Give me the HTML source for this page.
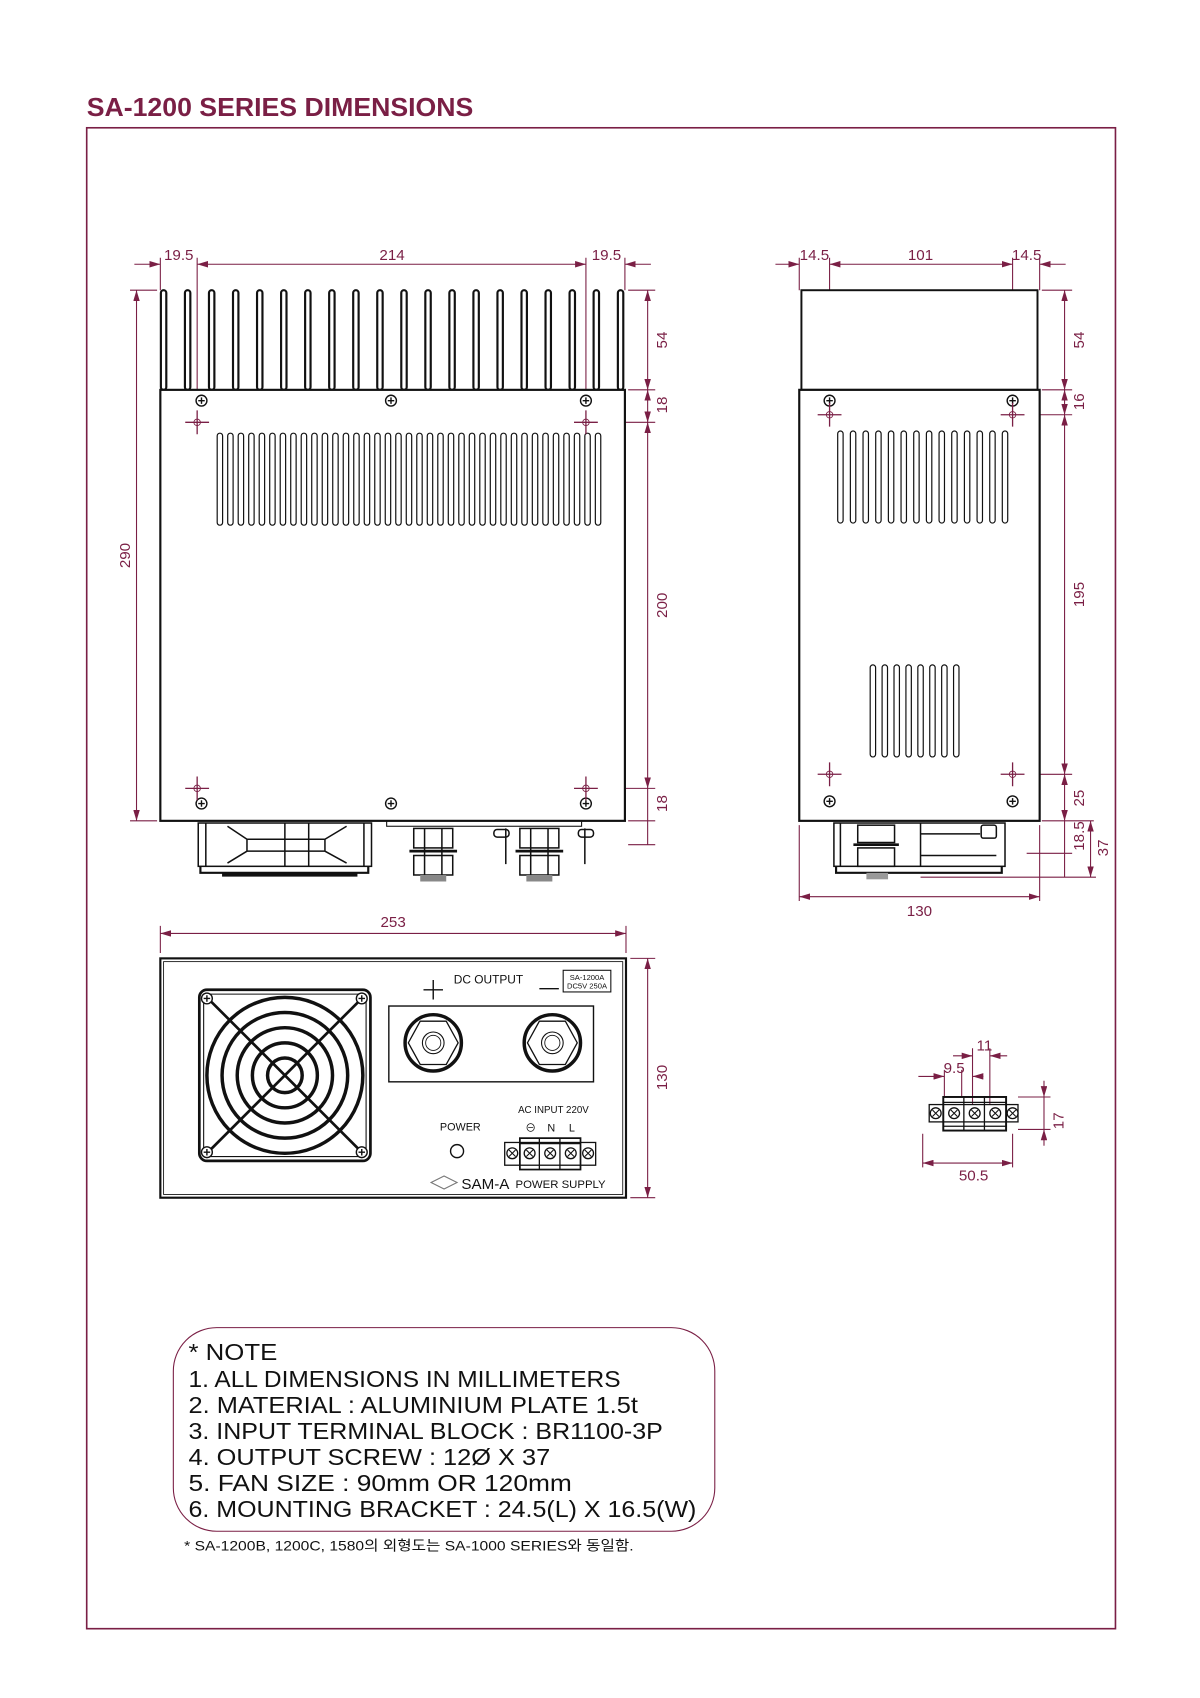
<!DOCTYPE html>
<html><head><meta charset="utf-8"><style>
html,body{margin:0;padding:0;background:#fff}
svg{display:block}
text{font-family:"Liberation Sans","Noto Sans CJK KR",sans-serif}
</style></head><body>
<svg width="1200" height="1698" viewBox="0 0 1108 1568" xmlns="http://www.w3.org/2000/svg">
<defs>
<marker id="a" viewBox="0 0 10 6" refX="10" refY="3" markerWidth="10" markerHeight="6" orient="auto-start-reverse" markerUnits="userSpaceOnUse"><path d="M0,0L10,3L0,6z" fill="#7a1f45"/></marker>
<rect id="fin" x="-2.5" y="0" width="5" height="92" rx="2.5" fill="#fff" stroke="#111" stroke-width="2"/>
<rect id="sl" x="-2.5" y="0" width="5" height="85" rx="2.5" fill="#fff" stroke="#111" stroke-width="1.1"/>
<g id="scr"><circle r="5" fill="#fff" stroke="#111" stroke-width="1.3"/><path d="M-3,0H3M0,-3V3" stroke="#111" stroke-width="1.3"/></g>
<g id="crs"><path d="M-11,0H11M0,-11V11" stroke="#7a1f45" stroke-width="1.2"/><circle r="3" fill="none" stroke="#7a1f45" stroke-width="0.8"/></g>
<g id="tsc"><circle r="5" fill="#fff" stroke="#111" stroke-width="1.2"/><path d="M-3,-3L3,3M3,-3L-3,3" stroke="#111" stroke-width="1"/></g>
</defs>

<text x="80" y="107" font-size="24" fill="#7a1f45" font-weight="bold" textLength="357" lengthAdjust="spacingAndGlyphs">SA-1200  SERIES  DIMENSIONS</text>
<rect x="80" y="118" width="950" height="1386" fill="none" stroke="#7a1f45" stroke-width="1.5"/>

<g stroke="#7a1f45" stroke-width="1" fill="none">
<path d="M124,244H148" marker-end="url(#a)"/>
<path d="M182,244H541" marker-start="url(#a)" marker-end="url(#a)"/>
<path d="M601,244H577" marker-end="url(#a)"/>
<path d="M148,238V268M182,238V380M541,238V380M577,238V268"/>
<path d="M120,268H145M120,758H145"/>
<path d="M126,268V758" marker-start="url(#a)" marker-end="url(#a)"/>
<path d="M580,268H605M580,360H605M552,390H605M552,728H605M580,758H605M580,780H605"/>
<path d="M598,268V360" marker-start="url(#a)" marker-end="url(#a)"/>
<path d="M598,360V390" marker-start="url(#a)" marker-end="url(#a)"/>
<path d="M598,390V728" marker-start="url(#a)" marker-end="url(#a)"/>
<path d="M598,728V780"/>
<path d="M402,665H492L540,724"/>
<path d="M716,244H738" marker-end="url(#a)"/>
<path d="M766,244H935" marker-start="url(#a)" marker-end="url(#a)"/>
<path d="M984,244H960" marker-end="url(#a)"/>
<path d="M738,238V268M766,238V375M935,238V375M960,238V268"/>
<path d="M962,268H990M962,360H990M946,383H990M946,715H990M962,758H1010M948,788H990M850,810H1012"/>
<path d="M983,268V360" marker-start="url(#a)" marker-end="url(#a)"/>
<path d="M983,360V383" marker-start="url(#a)" marker-end="url(#a)"/>
<path d="M983,383V715" marker-start="url(#a)" marker-end="url(#a)"/>
<path d="M983,715V758" marker-start="url(#a)" marker-end="url(#a)"/>
<path d="M983,758V810"/>
<path d="M1007,758V810" marker-start="url(#a)" marker-end="url(#a)"/>
<path d="M738,762V832M960,762V832"/>
<path d="M738,828H960" marker-start="url(#a)" marker-end="url(#a)"/>
<path d="M148,855V880M578,855V880"/>
<path d="M148,862H578" marker-start="url(#a)" marker-end="url(#a)"/>
<path d="M582,885H605M582,1106H605"/>
<path d="M598,885V1106" marker-start="url(#a)" marker-end="url(#a)"/>
<path d="M852,1047V1078M935,1047V1078"/>
<path d="M852,1074H935" marker-start="url(#a)" marker-end="url(#a)"/>
<path d="M872,988V1013M888,988V1013M898,968V1020M914,968V1020"/>
<path d="M848,994H872" marker-end="url(#a)"/>
<path d="M908,994H898" marker-end="url(#a)"/>
<path d="M880,975H898" marker-end="url(#a)"/>
<path d="M930,975H914" marker-end="url(#a)"/>
<path d="M940,1013H970M940,1043H970"/>
<path d="M964,998V1013" marker-end="url(#a)"/>
<path d="M964,1058V1043" marker-end="url(#a)"/>
<path d="M964,1013V1043"/>
</g>

<g fill="#7a1f45" font-size="14">
<text x="165" y="240" text-anchor="middle">19.5</text>
<text x="362" y="240" text-anchor="middle">214</text>
<text x="560" y="240" text-anchor="middle">19.5</text>
<text transform="translate(120,513) rotate(-90)" text-anchor="middle">290</text>
<text transform="translate(616,314) rotate(-90)" text-anchor="middle">54</text>
<text transform="translate(616,374) rotate(-90)" text-anchor="middle">18</text>
<text transform="translate(616,559) rotate(-90)" text-anchor="middle">200</text>
<text transform="translate(616,742) rotate(-90)" text-anchor="middle">18</text>
<text x="446" y="643" text-anchor="middle">Mounting Hole</text>
<text x="450" y="664" text-anchor="middle">(16-M4 Taps)</text>
<text x="752" y="240" text-anchor="middle">14.5</text>
<text x="850" y="240" text-anchor="middle">101</text>
<text x="948" y="240" text-anchor="middle">14.5</text>
<text transform="translate(1001,314) rotate(-90)" text-anchor="middle">54</text>
<text transform="translate(1001,371) rotate(-90)" text-anchor="middle">16</text>
<text transform="translate(1001,549) rotate(-90)" text-anchor="middle">195</text>
<text transform="translate(1001,737) rotate(-90)" text-anchor="middle">25</text>
<text transform="translate(1001,772) rotate(-90)" text-anchor="middle">18.5</text>
<text transform="translate(1023,783) rotate(-90)" text-anchor="middle">37</text>
<text x="849" y="846" text-anchor="middle">130</text>
<text x="363" y="856" text-anchor="middle">253</text>
<text transform="translate(616,995) rotate(-90)" text-anchor="middle">130</text>
<text x="909" y="970" text-anchor="middle">11</text>
<text x="881" y="991" text-anchor="middle">9.5</text>
<text x="899" y="1090" text-anchor="middle">50.5</text>
<text transform="translate(982,1035) rotate(-90)" text-anchor="middle">17</text>
</g>

<g>
<use href="#fin" x="151" y="268"/><use href="#fin" x="173.2" y="268"/><use href="#fin" x="195.4" y="268"/><use href="#fin" x="217.6" y="268"/><use href="#fin" x="239.8" y="268"/><use href="#fin" x="262" y="268"/><use href="#fin" x="284.2" y="268"/><use href="#fin" x="306.4" y="268"/><use href="#fin" x="328.6" y="268"/><use href="#fin" x="350.8" y="268"/><use href="#fin" x="373" y="268"/><use href="#fin" x="395.2" y="268"/><use href="#fin" x="417.4" y="268"/><use href="#fin" x="439.6" y="268"/><use href="#fin" x="461.8" y="268"/><use href="#fin" x="484" y="268"/><use href="#fin" x="506.2" y="268"/><use href="#fin" x="528.4" y="268"/><use href="#fin" x="550.6" y="268"/><use href="#fin" x="573" y="268"/>
<rect x="148" y="360" width="429" height="398" fill="#fff" stroke="#111" stroke-width="2"/>
<g>
<use href="#sl" x="203" y="400"/><use href="#sl" x="212.7" y="400"/><use href="#sl" x="222.4" y="400"/><use href="#sl" x="232.1" y="400"/><use href="#sl" x="241.8" y="400"/><use href="#sl" x="251.5" y="400"/><use href="#sl" x="261.2" y="400"/><use href="#sl" x="270.9" y="400"/><use href="#sl" x="280.6" y="400"/><use href="#sl" x="290.3" y="400"/><use href="#sl" x="300" y="400"/><use href="#sl" x="309.7" y="400"/><use href="#sl" x="319.4" y="400"/><use href="#sl" x="329.1" y="400"/><use href="#sl" x="338.8" y="400"/><use href="#sl" x="348.5" y="400"/><use href="#sl" x="358.2" y="400"/><use href="#sl" x="367.9" y="400"/><use href="#sl" x="377.6" y="400"/><use href="#sl" x="387.3" y="400"/><use href="#sl" x="397" y="400"/><use href="#sl" x="406.7" y="400"/><use href="#sl" x="416.4" y="400"/><use href="#sl" x="426.1" y="400"/><use href="#sl" x="435.8" y="400"/><use href="#sl" x="445.5" y="400"/><use href="#sl" x="455.2" y="400"/><use href="#sl" x="464.9" y="400"/><use href="#sl" x="474.6" y="400"/><use href="#sl" x="484.3" y="400"/><use href="#sl" x="494" y="400"/><use href="#sl" x="503.7" y="400"/><use href="#sl" x="513.4" y="400"/><use href="#sl" x="523.1" y="400"/><use href="#sl" x="532.8" y="400"/><use href="#sl" x="542.5" y="400"/><use href="#sl" x="552.2" y="400"/>
</g>
<use href="#scr" x="186" y="370"/><use href="#scr" x="361" y="370"/><use href="#scr" x="541" y="370"/>
<use href="#scr" x="186" y="742"/><use href="#scr" x="361" y="742"/><use href="#scr" x="541" y="742"/>
<use href="#crs" x="182" y="390"/><use href="#crs" x="541" y="390"/><use href="#crs" x="182" y="728"/><use href="#crs" x="541" y="728"/>
<g fill="none" stroke="#111" stroke-width="1.4">
<rect x="183" y="760" width="160" height="40"/>
<path d="M190,760V800M336,760V800M210,763L228,775H300L320,763M210,797L228,786H300L320,797M228,775V786M300,775V786M263,760V800M285,760V800"/>
<path d="M185,800V806H340V800" stroke-width="2"/>
<path d="M205,808H330" stroke-width="3"/>
<rect x="357" y="758" width="180" height="5" stroke-width="1"/>
<rect x="382" y="765" width="36" height="18"/><rect x="382" y="790" width="36" height="18"/>
<path d="M378,786H422" stroke-width="2.5"/>
<path d="M392,765V808M408,765V808"/>
<rect x="388" y="808" width="24" height="6" fill="#888" stroke="none"/>
<rect x="480" y="765" width="36" height="18"/><rect x="480" y="790" width="36" height="18"/>
<path d="M476,786H520" stroke-width="2.5"/>
<path d="M490,765V808M506,765V808"/>
<rect x="486" y="808" width="24" height="6" fill="#888" stroke="none"/>
<path d="M467,765V798M540,765V798"/>
<rect x="456" y="766" width="14" height="7" rx="3"/><rect x="534" y="766" width="14" height="7" rx="3"/>
</g>
</g>

<g>
<rect x="740" y="268" width="218" height="92" fill="#fff" stroke="#111" stroke-width="1.8"/>
<rect x="738" y="360" width="222" height="398" fill="#fff" stroke="#111" stroke-width="2"/>
<use href="#sl" x="776" y="398"/><use href="#sl" x="787.7" y="398"/><use href="#sl" x="799.4" y="398"/><use href="#sl" x="811.1" y="398"/><use href="#sl" x="822.8" y="398"/><use href="#sl" x="834.5" y="398"/><use href="#sl" x="846.2" y="398"/><use href="#sl" x="857.9" y="398"/><use href="#sl" x="869.6" y="398"/><use href="#sl" x="881.3" y="398"/><use href="#sl" x="893" y="398"/><use href="#sl" x="904.7" y="398"/><use href="#sl" x="916.4" y="398"/><use href="#sl" x="928" y="398"/>
<use href="#sl" x="806" y="614"/><use href="#sl" x="817" y="614"/><use href="#sl" x="828" y="614"/><use href="#sl" x="839" y="614"/><use href="#sl" x="850" y="614"/><use href="#sl" x="861" y="614"/><use href="#sl" x="872" y="614"/><use href="#sl" x="883" y="614"/>
<use href="#scr" x="766" y="370"/><use href="#scr" x="935" y="370"/><use href="#scr" x="766" y="740"/><use href="#scr" x="935" y="740"/>
<use href="#crs" x="766" y="383"/><use href="#crs" x="935" y="383"/><use href="#crs" x="766" y="715"/><use href="#crs" x="935" y="715"/>
<g fill="none" stroke="#111" stroke-width="1.4">
<rect x="770" y="760" width="158" height="40"/>
<rect x="792" y="762" width="34" height="16"/><rect x="792" y="783" width="34" height="17"/>
<path d="M788,780H830" stroke-width="2.5"/>
<path d="M776,760V800M850,760V800M850,790H920M850,770H905"/>
<rect x="906" y="762" width="14" height="12" rx="2"/>
<path d="M772,800V806H925V800" stroke-width="2"/>
<rect x="800" y="806" width="20" height="6" fill="#999" stroke="none"/>
</g>
</g>

<g fill="none" stroke="#111">
<rect x="148" y="885" width="430" height="221" stroke-width="2"/>
<rect x="151" y="888" width="424" height="215" stroke-width="0.8"/>
<rect x="184" y="914" width="158" height="158" rx="7" stroke-width="2.5"/>
<rect x="188" y="918" width="150" height="150" rx="5" stroke-width="1"/>
<g stroke-width="3.2">
<circle cx="263" cy="993" r="72"/><circle cx="263" cy="993" r="58"/><circle cx="263" cy="993" r="44"/><circle cx="263" cy="993" r="30"/><circle cx="263" cy="993" r="16"/>
<path d="M193,923L333,1063M333,923L193,1063" stroke-width="2.5"/>
</g>
<rect x="359" y="929" width="189" height="70" stroke-width="1.3"/>
<circle cx="400" cy="963" r="26" stroke-width="3.2"/>
<polygon points="388,943 412,943 423,963 412,983 388,983 377,963" stroke-width="1.2"/>
<circle cx="400" cy="963" r="10" stroke-width="1"/><circle cx="400" cy="963" r="7" stroke-width="0.8"/>
<circle cx="510" cy="963" r="26" stroke-width="3.2"/>
<polygon points="498,943 522,943 533,963 522,983 498,983 487,963" stroke-width="1.2"/>
<circle cx="510" cy="963" r="10" stroke-width="1"/><circle cx="510" cy="963" r="7" stroke-width="0.8"/>
<path d="M391,914H409M400,905V923M498,913H516" stroke-width="1.3"/>
<rect x="520" y="896" width="44" height="20" stroke-width="1"/>
<circle cx="422" cy="1063" r="6" stroke-width="1.3"/>
<rect x="466" y="1055" width="84" height="21" stroke-width="1.2"/>
<rect x="480" y="1051" width="56" height="29" stroke-width="1.6"/>
<path d="M498,1051V1080M517,1051V1080M480,1056H536" stroke-width="1.2"/>
</g>
<use href="#scr" x="191" y="922"/><use href="#scr" x="334" y="922"/><use href="#scr" x="191" y="1064"/><use href="#scr" x="334" y="1064"/>
<use href="#tsc" x="473" y="1065"/><use href="#tsc" x="489" y="1065"/><use href="#tsc" x="508" y="1065"/><use href="#tsc" x="527" y="1065"/><use href="#tsc" x="543" y="1065"/>
<g fill="#111">
<text x="451" y="908" font-size="11" text-anchor="middle">DC OUTPUT</text>
<text x="542" y="905" font-size="7" text-anchor="middle">SA-1200A</text>
<text x="542" y="913" font-size="7" text-anchor="middle">DC5V 250A</text>
<text x="425" y="1044" font-size="10" text-anchor="middle">POWER</text>
<text x="511" y="1028" font-size="9" text-anchor="middle">AC INPUT 220V</text>
<text x="490" y="1045" font-size="10" text-anchor="middle">⊖</text>
<text x="509" y="1045" font-size="10" text-anchor="middle">N</text>
<text x="528" y="1045" font-size="10" text-anchor="middle">L</text>
<text x="426" y="1098" font-size="14">SAM-A</text>
<text x="476" y="1097" font-size="10.5">POWER SUPPLY</text>
</g>
<path d="M398,1092L410,1086L422,1092L410,1098Z" fill="none" stroke="#777" stroke-width="1"/>

<g fill="none" stroke="#111">
<rect x="858" y="1020" width="82" height="16" stroke-width="1.2"/>
<rect x="871" y="1013" width="58" height="31" stroke-width="1.8"/>
<path d="M890,1013V1044M909,1013V1044M871,1018H929M871,1040H929" stroke-width="1.2"/>
</g>
<use href="#tsc" x="864" y="1028"/><use href="#tsc" x="881" y="1028"/><use href="#tsc" x="900" y="1028"/><use href="#tsc" x="919" y="1028"/><use href="#tsc" x="935" y="1028"/>

<rect x="160" y="1226" width="500" height="188" rx="40" fill="none" stroke="#7a1f45" stroke-width="1"/>
<g fill="#111" font-size="21">
<text x="174" y="1256" textLength="82" lengthAdjust="spacingAndGlyphs">*  NOTE</text>
<text x="174" y="1281" textLength="399" lengthAdjust="spacingAndGlyphs">1.  ALL  DIMENSIONS  IN  MILLIMETERS</text>
<text x="174" y="1305" textLength="415" lengthAdjust="spacingAndGlyphs">2.  MATERIAL  :  ALUMINIUM  PLATE  1.5t</text>
<text x="174" y="1329" textLength="438" lengthAdjust="spacingAndGlyphs">3.  INPUT  TERMINAL  BLOCK  :  BR1100-3P</text>
<text x="174" y="1353" textLength="334" lengthAdjust="spacingAndGlyphs">4.  OUTPUT  SCREW  :  12Ø  X  37</text>
<text x="174" y="1377" textLength="354" lengthAdjust="spacingAndGlyphs">5.  FAN  SIZE  :  90mm  OR  120mm</text>
<text x="174" y="1401" textLength="469" lengthAdjust="spacingAndGlyphs">6.  MOUNTING  BRACKET  :  24.5(L)  X  16.5(W)</text>
</g>
<text x="170" y="1432" font-size="13" fill="#111" textLength="415" lengthAdjust="spacingAndGlyphs">*  SA-1200B,  1200C,  1580의  외형도는  SA-1000  SERIES와  동일함.</text>
</svg>
</body></html>
